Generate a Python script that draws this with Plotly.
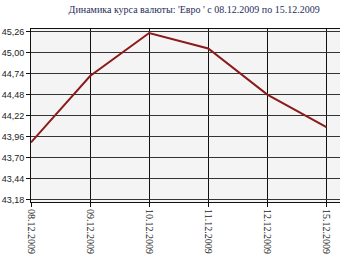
import plotly.graph_objects as go

dates = ["08.12.2009", "09.12.2009", "10.12.2009", "11.12.2009", "12.12.2009", "15.12.2009"]
rates = [43.89, 44.71, 45.24, 45.05, 44.48, 44.08]
y_ticks = [43.18, 43.44, 43.70, 43.96, 44.22, 44.48, 44.74, 45.00, 45.26]
y_tick_labels = ["43,18", "43,44", "43,70", "43,96", "44,22", "44,48", "44,74", "45,00", "45,26"]
title_text = "Динамика курса валюты: 'Евро ' с 08.12.2009 по 15.12.2009"

fig = go.Figure()
fig.add_trace(go.Scatter(
    x=list(range(len(dates))), y=rates, mode="lines",
    line=dict(color="#8b1a1a", width=2),
    hoverinfo="skip", showlegend=False,
))

fig.update_layout(
    width=340, height=255,
    margin=dict(l=31, r=0, t=29, b=53),
    paper_bgcolor="white",
    plot_bgcolor="#f4f4f4",
    title=dict(
        text=title_text, x=0.571, xanchor="center", y=0.961, yanchor="middle",
        xref="container", yref="container",
        font=dict(family="Liberation Serif", size=10, color="#1f2d5a"),
    ),
    xaxis=dict(
        range=[0, 5.23],
        tickvals=list(range(len(dates))), ticktext=dates,
        tickangle=90,
        showgrid=True, gridcolor="#111111", gridwidth=1,
        showline=True, linecolor="#111111", linewidth=1, mirror=True,
        ticks="outside", ticklen=4, tickcolor="#111111",
        tickfont=dict(family="Liberation Serif", size=10, color="#222222"),
        zeroline=False,
    ),
    yaxis=dict(
        range=[43.155, 45.29],
        tickvals=y_ticks, ticktext=y_tick_labels,
        showgrid=True, gridcolor="#333333", gridwidth=1,
        showline=True, linecolor="#111111", linewidth=1, mirror=False,
        ticks="outside", ticklen=4, tickcolor="#111111",
        tickfont=dict(family="Liberation Sans", size=9, color="#222222"),
        zeroline=False,
    ),
)

fig.write_html("out.html")
